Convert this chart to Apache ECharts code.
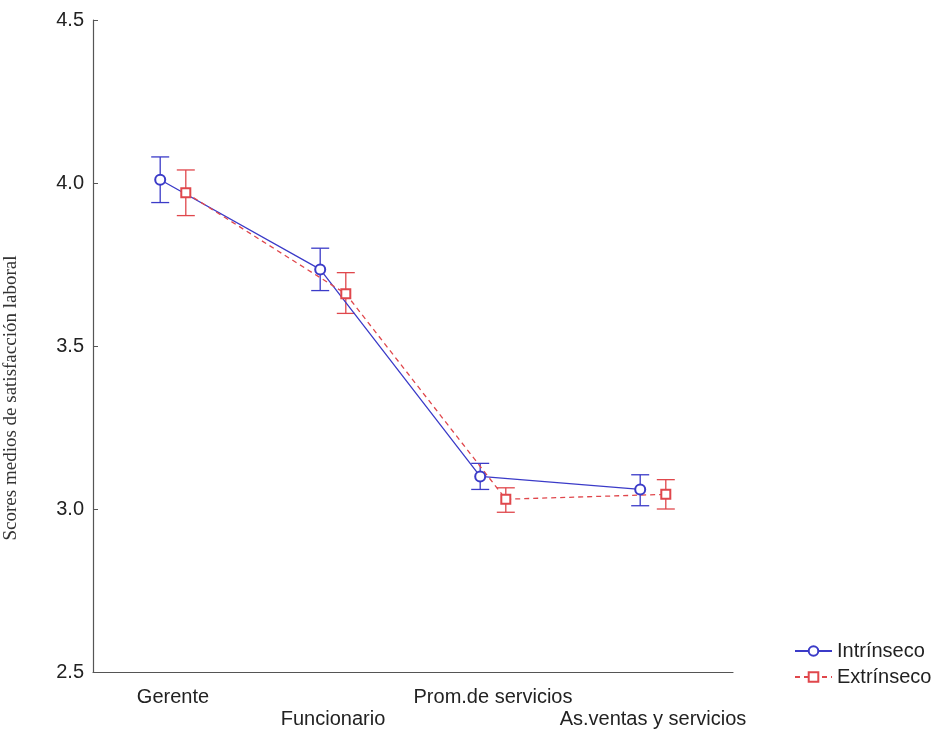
<!DOCTYPE html>
<html><head><meta charset="utf-8">
<script src="https://cdn.jsdelivr.net/npm/echarts@6/dist/echarts.min.js"></script>
<style>html,body{margin:0;padding:0;background:#fff}#c{width:938px;height:734px}</style>
</head><body><div id="c"></div>
<script>
const categories = ['Gerente', 'Funcionario', 'Prom.de servicios', 'As.ventas y servicios'];
const intrinsic = [4.01, 3.735, 3.10, 3.06];
const intrinsicLow = [3.94, 3.67, 3.06, 3.01];
const intrinsicHigh = [4.08, 3.80, 3.14, 3.105];
const extrinsic = [3.97, 3.66, 3.03, 3.045];
const extrinsicLow = [3.90, 3.60, 2.99, 3.00];
const extrinsicHigh = [4.04, 3.725, 3.065, 3.09];
const yTicks = { min: 2.5, max: 4.5, interval: 0.5 };
const shift = 0.08;

const blue = '#3b3bc8', red = '#e0474c';
const sans = 'Liberation Sans, Arial, sans-serif';

function pts(vals, off) { return vals.map((v, i) => [i + off, v]); }
function errData(low, high, off) { return low.map((l, i) => [i + off, l, high[i]]); }
function errSeries(name, data, color) {
  return {
    type: 'custom', name: name, xAxisIndex: 1, z: 2, silent: true,
    renderItem: function (params, api) {
      const x = api.value(0);
      const lo = api.coord([x, api.value(1)]);
      const hi = api.coord([x, api.value(2)]);
      const hw = 9;
      const st = { stroke: color, lineWidth: 1.3 };
      return { type: 'group', children: [
        { type: 'line', shape: { x1: lo[0], y1: lo[1], x2: hi[0], y2: hi[1] }, style: st },
        { type: 'line', shape: { x1: lo[0] - hw, y1: lo[1], x2: lo[0] + hw, y2: lo[1] }, style: st },
        { type: 'line', shape: { x1: hi[0] - hw, y1: hi[1], x2: hi[0] + hw, y2: hi[1] }, style: st }
      ]};
    },
    data: data
  };
}

const chart = echarts.init(document.getElementById('c'));
chart.setOption({
  animation: false,
  backgroundColor: '#fff',
  grid: { left: 93, top: 20, width: 640, height: 652 },
  legend: {
    orient: 'vertical', left: 789, top: 636, itemWidth: 37, itemHeight: 12, itemGap: 6,
    textStyle: { fontSize: 20, color: '#222', fontFamily: sans },
    data: ['Intrínseco', 'Extrínseco']
  },
  xAxis: [{
    type: 'category', data: categories, boundaryGap: true,
    axisLine: { lineStyle: { color: '#555', width: 1.2 } },
    axisTick: { alignWithLabel: true, inside: true, length: 5, lineStyle: { color: '#555' } },
    axisLabel: {
      interval: 0, margin: 14, fontSize: 20, lineHeight: 22, color: '#222',
      fontFamily: sans,
      formatter: function (v, i) { return i % 2 === 1 ? '\n' + v : v; }
    }
  }, {
    type: 'value', min: -0.5, max: 3.5, show: false
  }],
  yAxis: {
    type: 'value', min: yTicks.min, max: yTicks.max, interval: yTicks.interval,
    axisLine: { show: true, onZero: false, lineStyle: { color: '#555', width: 1.2 } },
    axisTick: { show: true, inside: true, length: 5, lineStyle: { color: '#555' } },
    splitLine: { show: false },
    axisLabel: { fontSize: 20, color: '#222', margin: 9, fontFamily: sans,
      formatter: v => v.toFixed(1) }
  },
  graphic: [{
    type: 'text', x: 11, y: 398, rotation: Math.PI / 2,
    style: { text: 'Scores medios de satisfacción laboral', fontSize: 19, fill: '#333',
      fontFamily: 'Liberation Serif, Times New Roman, serif', align: 'center', verticalAlign: 'middle' }
  }],
  series: [
    errSeries('errI', errData(intrinsicLow, intrinsicHigh, -shift), blue),
    errSeries('errE', errData(extrinsicLow, extrinsicHigh, shift), red),
    {
      name: 'Intrínseco', type: 'line', xAxisIndex: 1, z: 3, data: pts(intrinsic, -shift),
      symbol: 'emptyCircle', symbolSize: 10,
      lineStyle: { color: blue, width: 1.3 }, itemStyle: { color: blue, borderWidth: 1.3 }
    },
    {
      name: 'Extrínseco', type: 'line', xAxisIndex: 1, z: 3, data: pts(extrinsic, shift),
      symbol: 'emptyRect', symbolSize: 9,
      lineStyle: { color: red, width: 1.3, type: [5, 4] }, itemStyle: { color: red, borderWidth: 1.3 }
    }
  ]
});
</script></body></html>
